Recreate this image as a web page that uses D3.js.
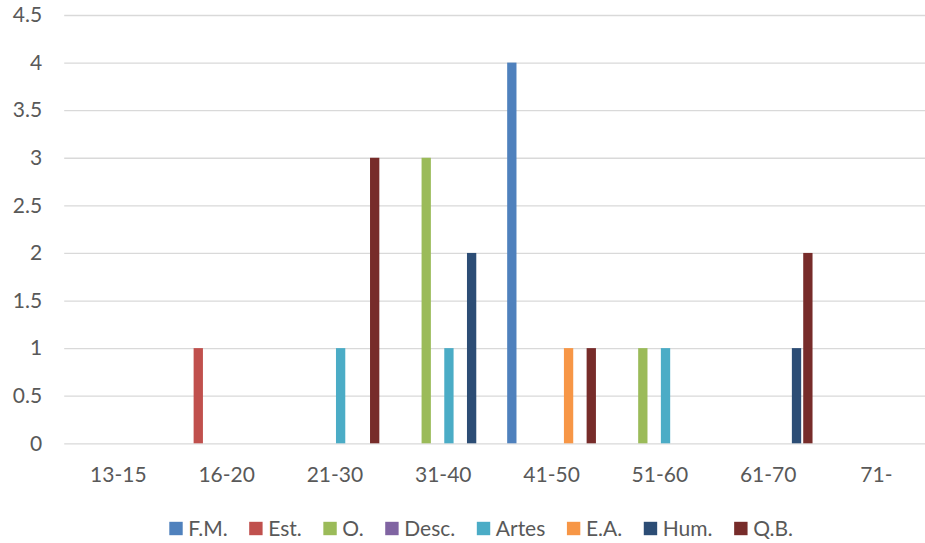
<!DOCTYPE html>
<html>
<head>
<meta charset="utf-8">
<script src="https://cdn.jsdelivr.net/npm/d3@7"></script>
<style>
  html, body { margin: 0; padding: 0; background: #fff; }
  svg { display: block; }
  text { font-family: Lato, "Open Sans", sans-serif; fill: #595959; }
</style>
</head>
<body>
<svg id="chart" width="925" height="543"></svg>
<script>
// Age groups along the x axis
const categories = ["13-15", "16-20", "21-30", "31-40", "41-50", "51-60", "61-70", "71-"];

// One array of counts per group, in category order
const seriesNames = ["F.M.", "Est.", "O.", "Desc.", "Artes", "E.A.", "Hum.", "Q.B."];
const fm    = [0, 0, 0, 0, 4, 0, 0, 0];
const est   = [0, 1, 0, 0, 0, 0, 0, 0];
const o     = [0, 0, 0, 3, 0, 1, 0, 0];
const desc  = [0, 0, 0, 0, 0, 0, 0, 0];
const artes = [0, 0, 1, 1, 0, 1, 0, 0];
const ea    = [0, 0, 0, 0, 1, 0, 0, 0];
const hum   = [0, 0, 0, 2, 0, 0, 1, 0];
const qb    = [0, 0, 3, 0, 1, 0, 2, 0];
const seriesValues = [fm, est, o, desc, artes, ea, hum, qb];

const yTicks = [0, 0.5, 1, 1.5, 2, 2.5, 3, 3.5, 4, 4.5];
const colors = ["#4F81BD", "#C0504D", "#9BBB59", "#8064A2", "#4BACC6", "#F79646", "#2C4D75", "#772C2A"];

const svg = d3.select("#chart");

const x0 = d3.scaleBand().domain(categories).range([64.2, 930.6]).padding(0);
const x1 = d3.scaleBand().domain(seriesNames).range([-45.4, 45.4]).paddingInner(0.18).paddingOuter(0.09);
const y = d3.scaleLinear().domain([0, 4.5]).range([443.3, 15]);
const color = d3.scaleOrdinal().domain(seriesNames).range(colors);

// Horizontal gridlines with value labels
const yAxis = d3.axisLeft(y).tickValues(yTicks).tickSize(-(925 - 64.2)).tickPadding(22)
  .tickFormat(d => String(d));
const gy = svg.append("g").attr("transform", "translate(64.2,0)").call(yAxis);
gy.select(".domain").remove();
gy.selectAll(".tick line").attr("stroke", "#d9d9d9").attr("stroke-width", 1.3);
gy.selectAll(".tick text").attr("font-size", 21).style("fill", "#595959")
  .attr("font-family", "Lato, 'Open Sans', sans-serif");

// Category labels
const xAxis = d3.axisBottom(x0).tickSize(0).tickPadding(24);
const gx = svg.append("g").attr("transform", `translate(0,${y(0)})`).call(xAxis);
gx.select(".domain").remove();
gx.selectAll(".tick text").attr("font-size", 21).style("fill", "#595959")
  .attr("font-family", "Lato, 'Open Sans', sans-serif");

// Clustered bars
const rows = [];
seriesNames.forEach((s, si) => {
  seriesValues[si].forEach((v, ci) => {
    rows.push({ series: s, category: categories[ci], value: v });
  });
});

svg.append("g").selectAll("rect")
  .data(rows.filter(d => d.value > 0))
  .join("rect")
  .attr("x", d => x0(d.category) + x0.bandwidth() / 2 + x1(d.series))
  .attr("width", x1.bandwidth())
  .attr("y", d => y(d.value))
  .attr("height", d => y(0) - y(d.value))
  .attr("fill", d => color(d.series));

// Legend along the bottom
const legend = svg.append("g").attr("transform", "translate(169.3,0)");
let cursor = 0;
seriesNames.forEach(s => {
  const item = legend.append("g").attr("transform", `translate(${cursor},0)`);
  item.append("rect").attr("x", 0).attr("y", 521.8).attr("width", 13.4).attr("height", 13.4)
    .attr("fill", color(s));
  const t = item.append("text").attr("x", 19).attr("y", 536).attr("font-size", 21).text(s);
  cursor += 19 + t.node().getComputedTextLength() + 21.6;
});
</script>
</body>
</html>
